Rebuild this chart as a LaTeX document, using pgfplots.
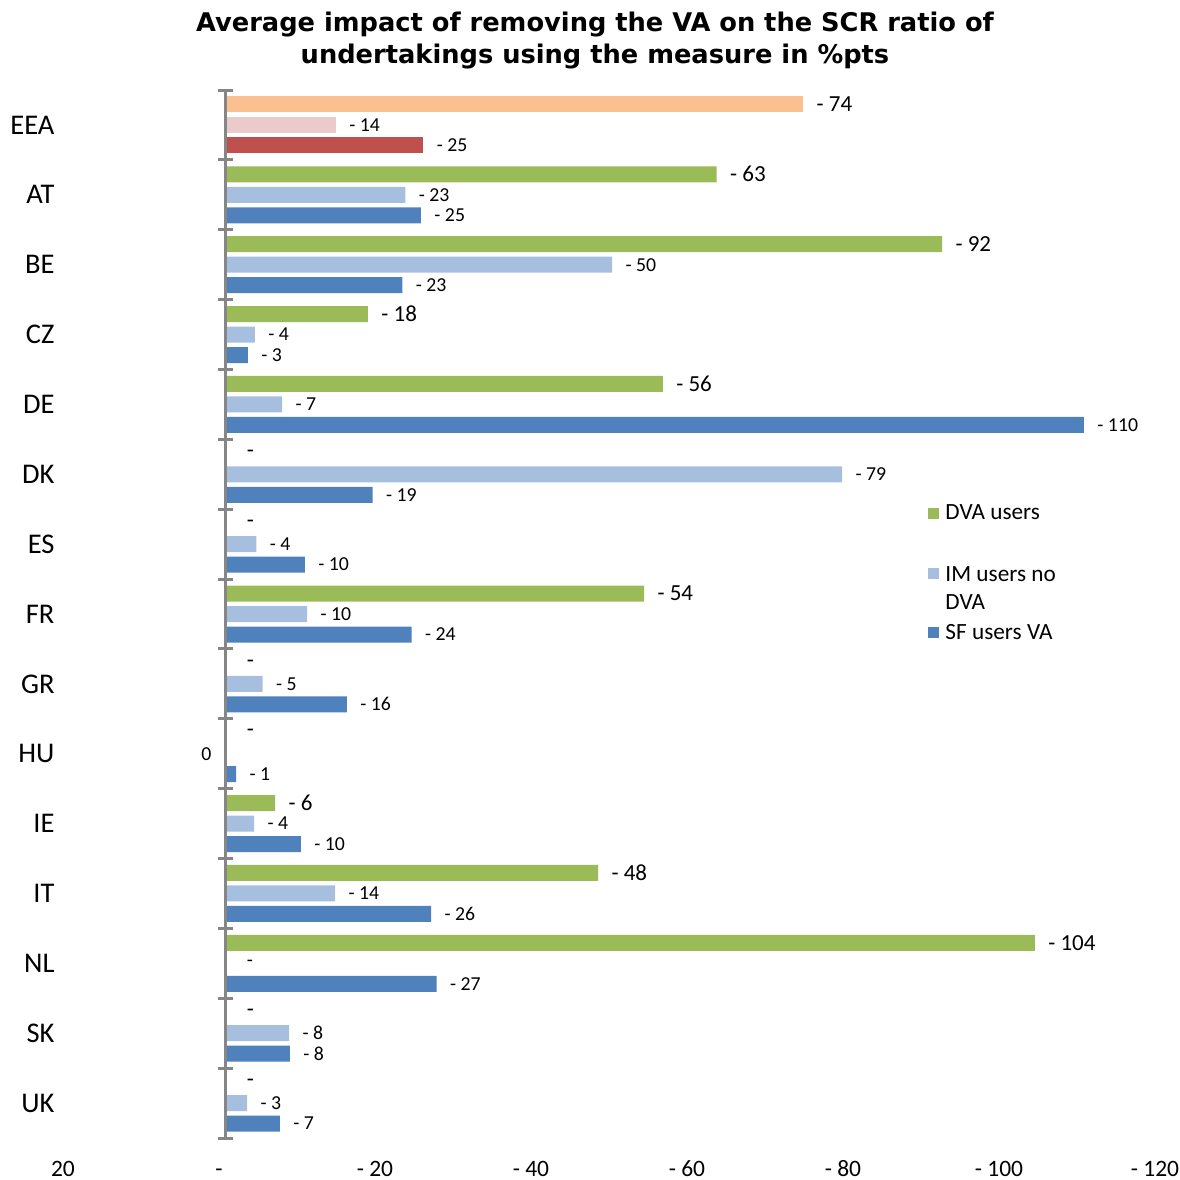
\documentclass[border=0pt]{standalone}
\usepackage{pgfplots}
\pgfplotsset{compat=1.18}
\usepackage{pgfplotstable}
\usepackage{fontspec}
\setmainfont{Carlito}
\newfontfamily\titlefont{DejaVu Sans}

\definecolor{dvagreen}{HTML}{9BBB59}
\definecolor{imblue}{HTML}{A7BFDE}
\definecolor{sfblue}{HTML}{4F81BD}
\definecolor{eeaorange}{HTML}{FAC090}
\definecolor{eeapink}{HTML}{EACACA}
\definecolor{eeared}{HTML}{C0504D}
\definecolor{axisgray}{HTML}{868686}

\newcommand\dsh{\hspace{3pt}-}
\newcommand\bigfont{\fontsize{9.2}{11}\selectfont}
\newcommand\smallfont{\fontsize{7.9}{9.5}\selectfont}
\newcommand\legfont{\fontsize{9.3}{11}\selectfont}

% rows: 1 = AT ... 14 = UK ; EEA (row 0) is plotted separately in its own colours
\pgfplotstableread[col sep=comma]{
y,v,lab
1,-62.9,- 63
2,-91.8,- 92
3,-18.2,- 18
4,-56,- 56
5,0,\dsh
6,0,\dsh
7,-53.6,- 54
8,0,\dsh
9,0,\dsh
10,-6.3,- 6
11,-47.7,- 48
12,-103.7,- 104
13,0,\dsh
14,0,\dsh
}\dva

\pgfplotstableread[col sep=comma]{
y,v,lab
1,-23,- 23
2,-49.5,- 50
3,-3.7,- 4
4,-7.2,- 7
5,-79,- 79
6,-3.9,- 4
7,-10.4,- 10
8,-4.7,- 5
10,-3.6,- 4
11,-14,- 14
12,0,\dsh
13,-8.1,- 8
14,-2.7,- 3
}\im

\pgfplotstableread[col sep=comma]{
y,v,lab
1,-25,- 25
2,-22.6,- 23
3,-2.8,- 3
4,-110,- 110
5,-18.8,- 19
6,-10.1,- 10
7,-23.8,- 24
8,-15.5,- 16
9,-1.3,- 1
10,-9.6,- 10
11,-26.3,- 26
12,-27,- 27
13,-8.2,- 8
14,-6.9,- 7
}\sf

\begin{document}
\begin{tikzpicture}
\path[use as bounding box] (0pt,0pt) rectangle (472pt,472pt);

\begin{scope}[x=0.4pt,y=0.4pt]
\node[anchor=base, inner sep=0pt, font=\titlefont\bfseries\fontsize{10.28}{12}\selectfont] at (595,1148.3) {Average impact of removing the VA on the SCR ratio of};
\node[anchor=base, inner sep=0pt, font=\titlefont\bfseries\fontsize{10.28}{12}\selectfont] at (595,1117) {undertakings using the measure in \%pts};
% legend
\fill[dvagreen] (928,661) rectangle (939,672);
\node[anchor=base west, inner sep=0pt, font=\legfont] at (945,660.7) {DVA users};
\fill[imblue] (928,601) rectangle (939,612);
\node[anchor=base west, inner sep=0pt, font=\legfont] at (945,598.3) {IM users no};
\node[anchor=base west, inner sep=0pt, font=\legfont] at (945,570.7) {DVA};
\fill[sfblue] (928,542) rectangle (939,553);
\node[anchor=base west, inner sep=0pt, font=\legfont] at (945,540.7) {SF users VA};
\end{scope}

\begin{axis}[
  at={(28pt,16.8pt)}, anchor=south west,
  scale only axis, width=436.8pt, height=419.2pt,
  xmin=-120, xmax=20, x dir=reverse,
  ymin=-0.5, ymax=14.5, y dir=reverse,
  xbar, bar width=6.4pt,
  clip=false,
  axis line style={draw=none},
  major tick length=0pt,
  xtick={-120,-100,...,20},
  xticklabels={- 120,- 100,- 80,- 60,- 40,- 20,-,20},
  xticklabel style={font=\fontsize{9.4}{11}\selectfont, anchor=base, inner sep=0pt, yshift=-15.2pt, xshift=-2.8pt},
  ytick={0,...,14},
  yticklabels={EEA,AT,BE,CZ,DE,DK,ES,FR,GR,HU,IE,IT,NL,SK,UK},
  yticklabel style={font=\fontsize{11.4}{13}\selectfont, anchor=east, inner sep=0pt, xshift=-6pt},
  point meta=explicit symbolic,
  nodes near coords,
]
% EEA
\addplot[fill=eeaorange, draw=none, bar shift=8.2pt, forget plot,
  every node near coord/.append style={anchor=west, inner sep=0pt, xshift=5.2pt, font=\bigfont}]
  coordinates {(-74,0) [- 74]};
\addplot[fill=eeapink, draw=none, bar shift=0pt, forget plot,
  every node near coord/.append style={anchor=west, inner sep=0pt, xshift=5.2pt, font=\smallfont}]
  coordinates {(-14.1,0) [- 14]};
\addplot[fill=eeared, draw=none, bar shift=-8.2pt, forget plot,
  every node near coord/.append style={anchor=west, inner sep=0pt, xshift=5.2pt, font=\smallfont}]
  coordinates {(-25.3,0) [- 25]};
% countries
\addplot[fill=dvagreen, draw=none, bar shift=8.2pt,
  every node near coord/.append style={anchor=west, inner sep=0pt, xshift=5.2pt, font=\bigfont}]
  table[x=v, y=y, meta=lab] {\dva};
\addplot[fill=imblue, draw=none, bar shift=0pt,
  every node near coord/.append style={anchor=west, inner sep=0pt, xshift=5.2pt, font=\smallfont}]
  table[x=v, y=y, meta=lab] {\im};
\addplot[fill=sfblue, draw=none, bar shift=-8.2pt,
  every node near coord/.append style={anchor=west, inner sep=0pt, xshift=5.2pt, font=\smallfont}]
  table[x=v, y=y, meta=lab] {\sf};
% HU, IM users: value rounds to 0, label on the left
\addplot[fill=imblue, draw=none, bar shift=0pt, forget plot,
  every node near coord/.append style={anchor=east, inner sep=0pt, xshift=-5.6pt, font=\smallfont}]
  coordinates {(0.01,9) [0]};

\draw[axisgray, line width=1.2pt] (axis cs:0,-0.5) -- (axis cs:0,14.5);
\pgfplotsinvokeforeach{-0.5,0.5,...,14.5}{
  \draw[axisgray, line width=1.2pt] (axis cs:1,#1) -- (axis cs:-0.9,#1);
}
\end{axis}
\end{tikzpicture}
\end{document}
